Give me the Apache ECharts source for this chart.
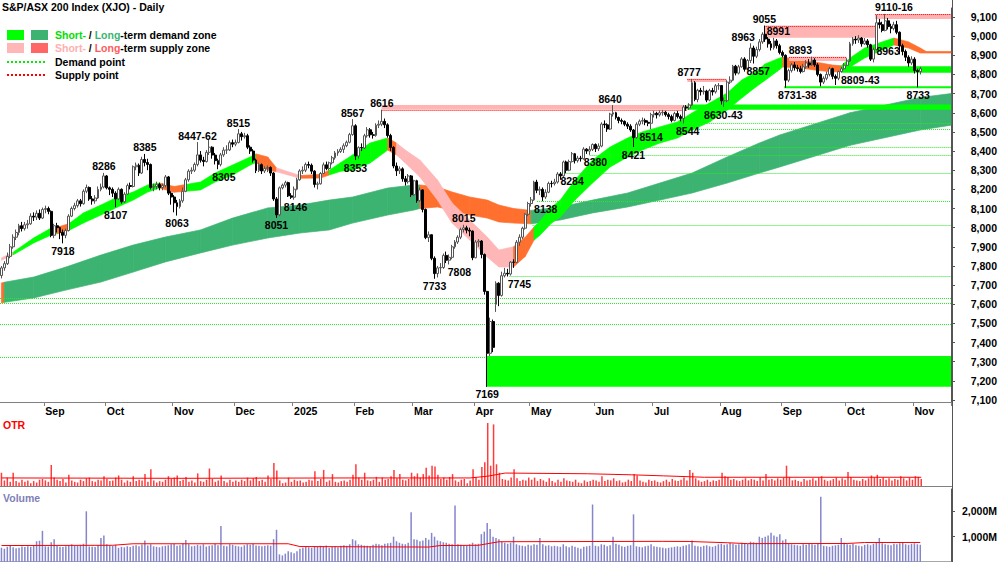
<!DOCTYPE html>
<html><head><meta charset="utf-8">
<script src="https://cdn.jsdelivr.net/npm/echarts@6/dist/echarts.min.js"></script>
<style>html,body{margin:0;padding:0;background:#fff}#c{width:1000px;height:562px}</style>
</head><body><div id="c"></div>
<script>
// ---------- DATA ----------
const holidays = ['2024-12-25','2024-12-26','2025-01-01','2025-01-27','2025-04-18','2025-04-21','2025-04-25','2025-06-09'];
const firstDay = '2024-08-12', lastDay = '2025-11-05';
const padDays = 10;
const monthNames = ['Jan','Feb','Mar','Apr','May','Jun','Jul','Aug','Sep','Oct','Nov','Dec'];
const priceTicks = [7100,7200,7300,7400,7500,7600,7700,7800,7900,8000,8100,8200,8300,8400,8500,8600,8700,8800,8900,9000,9100];
const volTicks = [1000,2000];

// daily [open, close, low, high]
const ohlc = [
[7750,7790,7735,7800],[7790,7812,7775,7825],[7812,7850,7805,7870],[7850,7900,7840,7915],[7900,7950,7890,7965],
[7950,7975,7935,7990],[7975,8010,7960,8020],[8010,7995,7980,8030],[7995,8015,7985,8030],[8015,8020,7995,8040],
[8020,8060,8015,8075],[8060,8055,8035,8080],[8055,8075,8040,8090],[8075,8050,8040,8095],[8050,8095,8045,8105],
[8095,8100,8075,8115],[8100,8085,8070,8110],[8085,7960,7950,8090],[7960,8010,7945,8020],[8010,8000,7975,8025],
[8000,7975,7940,8005],[7975,7960,7918,7990],[7960,7985,7945,7995],[7985,8060,7980,8070],[8060,8100,8055,8110],
[8100,8115,8090,8130],[8115,8140,8105,8150],[8140,8125,8110,8150],[8125,8190,8120,8200],[8190,8210,8180,8225],
[8210,8150,8140,8215],[8150,8140,8120,8165],[8140,8155,8125,8170],[8155,8200,8150,8215],[8200,8212,8190,8230],
[8212,8270,8205,8286],[8270,8208,8200,8275],[8208,8200,8170,8215],[8200,8180,8160,8210],[8180,8150,8107,8190],
[8150,8200,8145,8210],[8200,8135,8125,8205],[8135,8175,8130,8185],[8175,8220,8170,8230],[8220,8215,8200,8235],
[8215,8318,8210,8325],[8318,8326,8300,8340],[8326,8285,8270,8335],[8285,8356,8280,8370],[8356,8340,8320,8385],
[8340,8330,8300,8360],[8330,8210,8200,8335],[8210,8215,8190,8230],[8215,8225,8200,8240],[8225,8210,8195,8235],
[8210,8220,8195,8230],[8220,8265,8210,8275],[8265,8180,8170,8270],[8180,8160,8120,8190],[8160,8130,8080,8170],
[8130,8110,8063,8145],[8110,8140,8100,8150],[8140,8190,8130,8210],[8190,8250,8185,8260],[8250,8295,8240,8305],
[8295,8300,8280,8315],[8300,8330,8290,8340],[8330,8380,8320,8447],[8380,8352,8340,8400],[8352,8345,8320,8370],
[8345,8393,8340,8405],[8393,8420,8380,8462],[8420,8379,8360,8425],[8379,8350,8330,8390],[8350,8330,8305,8360],
[8330,8380,8320,8390],[8380,8405,8370,8420],[8405,8406,8385,8430],[8406,8444,8400,8455],[8444,8436,8420,8460],
[8436,8445,8425,8460],[8445,8490,8440,8515],[8490,8475,8455,8500],[8475,8480,8465,8495],[8480,8420,8410,8490],
[8420,8400,8385,8430],[8400,8353,8340,8410],[8353,8298,8285,8360],[8298,8329,8290,8340],[8329,8296,8280,8335],
[8296,8309,8285,8320],[8309,8314,8290,8325],[8314,8285,8270,8320],[8285,8150,8140,8290],[8150,8067,8051,8160],
[8067,8208,8060,8215],[8208,8222,8200,8230],[8222,8235,8210,8245],[8235,8166,8160,8240],[8166,8159,8150,8180],
[8159,8201,8146,8215],[8201,8250,8195,8260],[8250,8296,8245,8305],[8296,8300,8280,8320],[8300,8330,8290,8340],
[8330,8326,8310,8345],[8326,8295,8280,8335],[8295,8226,8210,8300],[8226,8229,8200,8240],[8229,8283,8225,8290],
[8283,8328,8280,8340],[8328,8309,8300,8345],[8309,8339,8300,8345],[8339,8365,8330,8375],[8365,8390,8355,8400],
[8390,8398,8375,8410],[8398,8409,8390,8420],[8409,8428,8390,8440],[8428,8446,8420,8455],[8446,8486,8440,8495],
[8486,8532,8480,8567],[8532,8374,8353,8540],[8374,8418,8360,8425],[8418,8416,8400,8440],[8416,8480,8410,8490],
[8480,8511,8470,8525],[8511,8485,8470,8520],[8485,8482,8465,8500],[8482,8535,8475,8545],[8535,8540,8520,8560],
[8540,8555,8530,8616],[8555,8537,8520,8570],[8537,8481,8470,8545],[8481,8419,8400,8490],[8419,8322,8310,8425],
[8322,8297,8270,8340],[8297,8307,8280,8320],[8307,8255,8240,8315],[8255,8240,8220,8270],[8240,8270,8230,8280],
[8270,8172,8160,8275],[8172,8245,8165,8250],[8245,8141,8130,8250],[8141,8197,8135,8210],[8197,8095,8080,8200],
[8095,7948,7940,8100],[7948,7963,7925,7980],[7963,7840,7830,7965],[7840,7760,7733,7850],[7760,7790,7740,7800],
[7790,7792,7760,7815],[7792,7855,7785,7865],[7855,7830,7815,7875],[7830,7845,7808,7860],[7845,7900,7835,7910],
[7900,7925,7890,7935],[7925,7950,7915,7960],[7950,7990,7940,8000],[7990,7999,7975,8015],[7999,7987,7970,8010],
[7987,7982,7955,8000],[7982,7843,7830,7985],[7843,7925,7840,7935],[7925,7930,7900,7940],[7930,7860,7840,7935],
[7860,7667,7650,7865],[7667,7344,7169,7670],[7344,7510,7330,7530],[7510,7375,7350,7520],[7600,7710,7560,7720],
[7710,7646,7590,7715],[7646,7749,7640,7770],[7749,7762,7740,7790],[7762,7758,7745,7785],[7758,7820,7750,7825],
[7820,7819,7790,7835],[7819,7924,7815,7935],[7924,7950,7905,7965],[7950,7997,7940,8005],[7997,8070,7990,8075],
[8070,8126,8060,8135],[8126,8145,8110,8160],[8145,8238,8140,8245],[8238,8195,8180,8250],[8195,8200,8170,8215],
[8200,8160,8138,8210],[8160,8185,8150,8200],[8185,8231,8180,8240],[8231,8230,8210,8245],[8230,8238,8220,8255],
[8238,8280,8230,8290],[8280,8270,8250,8290],[8270,8343,8265,8350],[8343,8300,8284,8350],[8300,8345,8295,8355],
[8345,8386,8340,8395],[8386,8350,8335,8390],[8350,8363,8340,8375],[8363,8360,8345,8375],[8360,8410,8355,8420],
[8410,8400,8385,8415],[8400,8409,8380,8425],[8409,8434,8400,8440],[8434,8412,8395,8440],[8412,8426,8400,8440],
[8426,8541,8420,8550],[8541,8537,8520,8560],[8537,8515,8500,8545],[8515,8593,8510,8600],[8593,8600,8580,8640],
[8600,8575,8565,8605],[8575,8560,8545,8580],[8560,8555,8540,8570],[8555,8540,8530,8560],[8540,8530,8515,8550],
[8530,8510,8500,8540],[8510,8470,8421,8515],[8470,8540,8465,8550],[8540,8556,8530,8565],[8556,8560,8540,8575],
[8560,8550,8535,8570],[8550,8545,8530,8560],[8545,8590,8514,8600],[8590,8597,8575,8610],[8597,8589,8570,8605],
[8589,8600,8580,8612],[8600,8603,8585,8615],[8603,8590,8580,8610],[8590,8580,8565,8600],[8580,8560,8550,8590],
[8560,8596,8555,8605],[8596,8580,8570,8610],[8580,8570,8555,8590],[8570,8630,8544,8640],[8630,8625,8610,8640],
[8625,8640,8615,8650],[8640,8757,8635,8777],[8757,8669,8660,8765],[8669,8717,8655,8725],[8717,8710,8690,8730],
[8710,8713,8695,8740],[8713,8666,8655,8720],[8666,8716,8660,8725],[8716,8709,8690,8730],[8709,8741,8700,8750],
[8741,8742,8720,8755],[8742,8662,8643,8745],[8662,8663,8630,8680],[8663,8760,8655,8770],[8760,8770,8750,8790],
[8770,8843,8765,8850],[8843,8807,8795,8850],[8807,8840,8800,8850],[8840,8881,8835,8890],[8881,8827,8815,8890],
[8827,8873,8820,8880],[8873,8938,8860,8963],[8938,8895,8857,8950],[8895,8930,8885,8945],[8930,8970,8920,8985],
[8970,9010,8960,9020],[9010,8985,8970,9055],[8985,8960,8940,8995],[8960,8940,8925,8975],[8940,8975,8930,8991],
[8975,8950,8935,8985],[8950,8915,8905,8960],[8915,8900,8890,8925],[8900,8770,8731,8905],[8770,8820,8760,8830],
[8820,8850,8810,8860],[8850,8835,8820,8865],[8835,8830,8815,8850],[8830,8815,8805,8845],[8815,8840,8810,8855],
[8840,8860,8830,8875],[8860,8850,8835,8880],[8850,8875,8845,8893],[8875,8850,8840,8885],[8850,8800,8790,8860],
[8800,8760,8738,8805],[8760,8780,8750,8790],[8780,8800,8770,8815],[8800,8830,8790,8840],[8830,8790,8775,8835],
[8790,8780,8745,8800],[8780,8815,8770,8820],[8815,8830,8809,8840],[8830,8848,8825,8860],[8848,8870,8843,8885],
[8870,8960,8865,8970],[8960,8985,8950,8995],[8985,8980,8960,9000],[8980,8990,8965,9005],[8990,8960,8945,8995],
[8960,8975,8955,8990],[8975,8955,8940,8985],[8955,8880,8870,8960],[8880,8930,8863,8940],[8930,9070,8925,9110],
[9070,9060,9040,9090],[9060,9030,9020,9075],[9030,9080,9025,9116],[9080,9050,9035,9095],[9050,9040,9015,9065],
[9040,9060,9030,9075],[9060,9020,9010,9080],[9020,8950,8905,9025],[8950,8920,8900,8960],[8920,8890,8870,8930],
[8890,8860,8840,8900],[8860,8880,8850,8895],[8880,8820,8805,8890],[8820,8815,8733,8830],[8815,8830,8800,8840]
];

const otr = [
19,8,12,6,19,7,5,9,6,8,4,7,5,9,10,
8,6,30,12,9,7,10,5,16,8,6,5,9,7,11,12,7,6,9,8,14,
10,7,8,12,15,9,5,8,6,14,7,9,8,17,6,24,8,5,7,6,9,14,10,
12,15,7,9,13,6,8,5,18,7,6,9,25,10,6,8,15,7,5,9,6,
8,6,9,7,12,8,11,13,7,9,6,15,10,33,22,8,4,5,12,6,
9,7,8,5,6,9,8,21,7,10,23,6,8,17,6,5,7,8,6,9,16,
31,12,9,19,8,7,9,13,6,12,9,10,14,23,11,17,9,8,10,19,
14,18,12,17,26,15,29,28,16,10,12,9,13,17,8,6,9,10,4,8,24,
12,9,27,34,90,29,88,31,19,10,9,8,12,24,11,7,9,8,12,
9,12,7,10,8,6,11,7,5,9,6,11,8,7,6,9,5,4,8,6,7,9,
8,6,14,7,9,8,11,7,8,5,6,9,7,17,15,8,6,5,9,7,
8,6,5,7,9,6,10,8,7,9,12,8,23,19,11,8,6,7,9,6,8,7,9,
19,14,13,9,10,8,7,9,11,8,10,9,7,12,8,17,9,10,8,11,9,
12,29,13,8,9,7,6,10,8,9,11,8,12,14,9,7,8,10,12,8,11,9,
20,13,9,8,7,10,8,11,15,12,16,10,12,9,11,8,10,9,14,11,8,12,9,
14,13,10
];
const otrAvg = [[0,11.5],[60,11],[120,11.5],[160,11.5],[166,14],[172,18.5],[200,17.5],[215,16],[226,14.5],[240,12.5],[280,12.5],[314,12.5]];

const volume = [
560,520,600,640,580,540,560,610,590,620,600,650,820,840,1230,
620,610,780,900,640,600,590,620,650,700,650,640,680,720,2000,610,600,590,660,950,1050,
700,650,640,680,560,600,580,620,590,640,660,620,690,850,650,700,620,600,580,620,640,660,700,
720,640,660,740,870,700,620,640,680,650,700,610,640,660,720,660,1420,640,620,700,680,
640,620,600,660,700,680,720,650,640,620,640,660,640,900,1270,300,260,330,420,380,
350,420,520,560,600,580,560,620,600,640,620,650,560,600,620,580,640,660,640,700,900,
850,700,680,650,640,620,680,720,700,660,720,740,760,1000,820,760,720,700,760,1960,
900,880,820,850,950,880,1150,1000,850,820,780,760,720,700,2230,700,680,650,640,700,760,
700,720,1100,1200,1540,1300,1000,950,900,800,760,720,760,1000,700,660,640,620,680,
650,700,680,950,700,640,660,620,640,620,600,700,620,580,640,600,560,520,600,620,640,2270,
640,620,700,680,620,660,1000,720,680,620,600,640,660,1880,620,600,580,620,640,700,
620,600,580,560,540,560,580,600,620,600,640,660,700,850,640,620,600,640,660,620,600,640,700,
720,680,700,750,720,680,700,760,740,720,800,780,760,1000,950,1000,1050,1150,1050,1000,1100,
850,900,720,700,680,660,640,700,680,720,700,680,720,2580,640,620,600,640,660,680,950,760,
700,680,720,660,640,620,680,700,660,720,760,950,740,700,680,660,720,700,740,760,700,680,720,
740,700,680
];
const volumeAvg = [[0,650],[38,660],[45,720],[98,720],[102,610],[146,590],[150,650],[163,660],[170,800],[226,815],[235,810],[248,760],[255,725],[289,730],[295,770],[314,770]];

// short-term band: [index, lower, upper, colour key of the segment that starts here]
const shortBand = [
[0,7830,7842,'p'],[4,7858,7872,'g'],[11,7920,7946,'g'],[17,7962,7998,'g'],[19,7968,8002,'o'],[23,7985,8020,'g'],
[28,8024,8077,'g'],[34,8066,8118,'g'],[39,8103,8155,'g'],[45,8144,8186,'g'],[50,8186,8223,'g'],[54,8207,8233,'o'],
[59,8185,8215,'o'],[63,8190,8225,'g'],[68,8197,8238,'g'],[73,8238,8285,'g'],[79,8275,8327,'g'],[85,8327,8369,'g'],
[87,8340,8385,'o'],[91,8300,8369,'o'],[94,8292,8312,'p'],[102,8258,8272,'o'],[109,8259,8278,'o'],[112,8275,8300,'g'],
[116,8295,8340,'g'],[120,8300,8380,'g'],[126,8338,8442,'g'],[132,8405,8468,'o'],[135,8380,8442,'p'],[138,8338,8405,'p'],
[143,8265,8353,'p'],[149,8144,8249,'p'],[154,8024,8129,'p'],[160,7936,8040,'p'],[166,7847,7951,'p'],[170,7795,7883,'p'],
[175,7795,7900,'o'],[179,7850,7950,'o'],[182,7935,8003,'g'],[184,7960,8035,'g'],[188,8024,8108,'g'],[191,8056,8144,'g'],
[196,8144,8249,'g'],[202,8233,8353,'g'],[208,8317,8421,'g'],[214,8369,8468,'g'],[219,8405,8500,'g'],[225,8442,8526,'g'],
[231,8468,8552,'g'],[236,8510,8599,'g'],[242,8552,8651,'g'],[248,8614,8703,'g'],[253,8677,8771,'g'],[257,8725,8805,'g'],
[261,8770,8855,'g'],[265,8815,8880,'g'],[267,8839,8891,'o'],[273,8834,8875,'o'],[278,8823,8865,'o'],[284,8813,8849,'o'],
[287,8815,8845,'g'],[290,8839,8886,'g'],[295,8886,8938,'g'],[301,8928,8970,'g'],[305,8954,8990,'o'],[310,8938,8970,'o'],
[314,8912,8938,'o'],[316,8912,8920,'o'],[324.5,8912,8920,'o']
];
// long-term band
const longBand = [
[0,7607,7711,'o'],[1,7610,7715,'G'],[11,7633,7742,'G'],[22,7674,7794,'G'],[34,7716,7857,'G'],[45,7768,7909,'G'],
[56,7821,7951,'G'],[68,7868,7988,'G'],[79,7909,8050,'G'],[91,7946,8103,'G'],[102,7972,8118,'G'],[112,7988,8144,'G'],
[120,8024,8160,'G'],[132,8066,8207,'G'],[141,8092,8223,'G'],[143,8100,8223,'o'],[149,8108,8212,'o'],[154,8092,8186,'o'],
[160,8066,8160,'o'],[166,8050,8144,'o'],[170,8030,8118,'o'],[175,8024,8100,'o'],[181,8020,8090,'G'],[191,8040,8108,'G'],
[202,8077,8144,'G'],[214,8108,8181,'G'],[225,8144,8233,'G'],[236,8181,8285,'G'],[248,8233,8369,'G'],[259,8285,8442,'G'],
[266,8317,8484,'G'],[290,8430,8600,'G'],[314,8510,8680,'G'],[324.5,8535,8700,'G']
];

// zones: [from index, to index, low, high]
const supplyZones = [[129.9,234.4,8616,8640],[234.4,247.7,8760,8777],[260.7,298.6,8991,9055],[269.2,288.7,8870,8893],[298.6,324.5,9090,9116]];
const demandZones = [[165.6,324.5,7169,7330],[234.4,324.5,8616,8643],[267.5,324.5,8731,8738],[287.3,324.5,8809,8843]];
// dotted point lines: [price, from index, to index]
const demandPoints = [[7633,-0.5,324.5],[7607,-0.5,324.5],[7497,-0.5,324.5],[7325,-0.5,324.5],[7745,173.6,324.5],[8015,181.5,324.5],
[8138,183,324.5],[8284,190.7,324.5],[8380,201,324.5],[8421,215.6,324.5],[8514,222,324.5],[8544,233,324.5]];
const supplyPoints = [[8616,129.9,234.4],[8777,234.4,247.7],[9055,260.7,298.6],[8893,269.2,288.7],[9116,298.6,324.5]];
// price annotations: [text, index, price, 't' above / 'b' below]
const notes = [
['7918',21,7918,'b'],['8286',35,8286,'t'],['8107',39,8107,'b'],['8385',49,8385,'t'],['8063',60,8063,'b'],
['8447-62',67,8447,'t'],['8305',76,8305,'b'],['8515',81,8515,'t'],['8051',94,8051,'b'],['8146',100.5,8146,'b'],
['8567',120,8567,'t'],['8353',121,8353,'b'],['8616',130,8616,'t'],['7733',148,7733,'b'],['7808',156.5,7808,'b'],
['8015',158,8015,'t'],['7169',166,7169,'b'],['7745',177,7745,'b'],['8138',186,8138,'b'],['8284',195,8284,'b'],
['8380',203,8380,'b'],['8640',208,8640,'t'],['8421',216,8421,'b'],['8514',222,8514,'b'],['8544',234.5,8544,'b'],
['8777',235,8777,'t'],['8630-43',246.7,8630,'b'],['8963',253.5,8963,'t'],['9055',260.7,9055,'t'],['8857',258.6,8857,'b'],
['8991',265.5,8991,'t'],['8893',273,8893,'t'],['8731-38',272,8731,'b'],['8809-43',293.5,8809,'b'],['9110-16',305,9116,'t'],
['8963',303,8963,'b'],['8733',313.3,8733,'b']
];

// ---------- BUILD ----------
const cats = [];
{
  let t = Date.parse(firstDay + 'T00:00:00Z');
  const end = Date.parse(lastDay + 'T00:00:00Z');
  while (t <= end) {
    const d = new Date(t), s = d.toISOString().slice(0, 10), w = d.getUTCDay();
    if (w !== 0 && w !== 6 && holidays.indexOf(s) < 0) cats.push(s);
    t += 86400000;
  }
  for (let k = 0; k < padDays; k++) cats.push('');
}
const FONT = '"Liberation Sans", Arial, Helvetica, sans-serif';
const FS = 10.5;
const isMonthStart = (i) => i > 0 && !!cats[i] && !!cats[i - 1] && cats[i].slice(0, 7) !== cats[i - 1].slice(0, 7);
const comma = (v) => String(v).replace(/\B(?=(\d{3})+(?!\d))/g, ',');
const colors = { g: '#00ff00', G: '#3cb371', p: '#ffb6b6', o: '#ff6f2e' };

function px(api, i, v) {
  const bw = api.size([1, 0])[0];
  const p0 = api.coord([0, v]);
  return [p0[0] + i * bw, p0[1]];
}
function bandSeries(band, z) {
  return {
    type: 'custom', xAxisIndex: 0, yAxisIndex: 0, z: z, silent: true,
    data: band.slice(0, -1).map(r => [Math.floor(r[0]), r[1]]),
    renderItem: function (params, api) {
      const a = band[params.dataIndex], b = band[params.dataIndex + 1];
      const pts = [px(api, a[0], a[2]), px(api, b[0], b[2]), px(api, b[0], b[1]), px(api, a[0], a[1])];
      const col = colors[a[3]];
      return { type: 'polygon', shape: { points: pts }, style: { fill: col, stroke: col, lineWidth: 0.7 } };
    }
  };
}
function zoneSeries(zones, col, z) {
  return {
    type: 'custom', xAxisIndex: 0, yAxisIndex: 0, z: z, silent: true,
    data: zones.map(r => [Math.floor(r[0]), r[2]]),
    renderItem: function (params, api) {
      const r = zones[params.dataIndex];
      const a = px(api, r[0], r[3]), b = px(api, r[1], r[2]);
      const h = Math.max(2, b[1] - a[1]);
      return { type: 'rect', shape: { x: a[0], y: a[1], width: b[0] - a[0], height: h }, style: { fill: col } };
    }
  };
}
function pointSeries(lines, col, z) {
  return {
    type: 'custom', xAxisIndex: 0, yAxisIndex: 0, z: z, silent: true,
    data: lines.map(r => [Math.max(0, Math.floor(r[1])), r[0]]),
    renderItem: function (params, api) {
      const r = lines[params.dataIndex];
      const a = px(api, r[1], r[0]), b = px(api, r[2], r[0]);
      const y = Math.round(a[1]) + 0.5;
      return { type: 'line', shape: { x1: a[0], y1: y, x2: b[0], y2: y }, style: { stroke: col, lineWidth: 1, lineDash: [1, 1] } };
    }
  };
}
const noteSeries = {
  type: 'custom', xAxisIndex: 0, yAxisIndex: 0, z: 20, silent: true,
  data: notes.map(r => [Math.floor(r[1]), r[2]]),
  renderItem: function (params, api) {
    const r = notes[params.dataIndex];
    const p = px(api, r[1], r[2]);
    const top = r[3] === 't';
    return {
      type: 'text', x: p[0], y: top ? p[1] - 1 : p[1] + 2,
      style: { text: r[0], align: 'center', verticalAlign: top ? 'bottom' : 'top',
               font: 'bold ' + FS + 'px ' + FONT, fill: '#000' }
    };
  }
};

const chart = echarts.init(document.getElementById('c'), null, { renderer: 'svg', width: 1000, height: 562 });
const legendFont = 'bold ' + FS + 'px ' + FONT;
chart.setOption({
  animation: false,
  backgroundColor: '#ffffff',
  title: { text: 'S&P/ASX 200 Index (XJO) - Daily', left: 2, top: 1, padding: 0,
           textStyle: { fontSize: FS, fontWeight: 'bold', fontFamily: FONT, color: '#000' } },
  grid: [
    { left: 0, top: 8, width: 952, height: 394 },
    { left: 0, top: 416, width: 952, height: 70 },
    { left: 0, top: 489, width: 952, height: 73.5 }
  ],
  xAxis: [
    { type: 'category', gridIndex: 0, data: cats, boundaryGap: true,
      axisLine: { lineStyle: { color: '#808080', width: 1 } },
      axisTick: { show: true, interval: (i) => isMonthStart(i), length: 4, lineStyle: { color: '#808080' } },
      axisLabel: { interval: (i) => isMonthStart(i), align: 'left', margin: 3,
        formatter: (v) => { if (!v) return ''; const m = +v.slice(5, 7); return m === 1 ? v.slice(0, 4) : monthNames[m - 1]; },
        fontSize: FS, fontWeight: 'bold', fontFamily: FONT, color: '#000' },
      splitLine: { show: false } },
    { type: 'category', gridIndex: 1, data: cats, boundaryGap: true, position: 'top',
      axisLine: { lineStyle: { color: '#808080' } }, axisTick: { show: false }, axisLabel: { show: false } },
    { type: 'category', gridIndex: 2, data: cats, boundaryGap: true, position: 'top',
      axisLine: { lineStyle: { color: '#8a8a8a', width: 1.5 } }, axisTick: { show: false }, axisLabel: { show: false } }
  ],
  yAxis: [
    { type: 'value', gridIndex: 0, position: 'right', min: 7089.6, max: 9147, splitLine: { show: false },
      axisLine: { show: true, lineStyle: { color: '#555' } },
      axisTick: { show: true, length: 4, customValues: priceTicks, lineStyle: { color: '#555' } },
      axisLabel: { customValues: priceTicks, formatter: (v) => comma(v), align: 'right', margin: 46,
        fontSize: FS, fontWeight: 'bold', fontFamily: FONT, color: '#000' } },
    { type: 'value', gridIndex: 1, position: 'right', min: 0, max: 100, splitLine: { show: false },
      axisLine: { show: true, lineStyle: { color: '#555' } }, axisTick: { show: false }, axisLabel: { show: false } },
    { type: 'value', gridIndex: 2, position: 'right', min: 0, max: 2882, splitLine: { show: false },
      axisLine: { show: true, lineStyle: { color: '#555' } },
      axisTick: { show: true, length: 4, customValues: volTicks, lineStyle: { color: '#555' } },
      axisLabel: { customValues: volTicks, formatter: (v) => comma(v) + 'M', align: 'right', margin: 46,
        fontSize: FS, fontWeight: 'bold', fontFamily: FONT, color: '#000' } }
  ],
  graphic: [
    { type: 'line', shape: { x1: 952.5, y1: 0, x2: 952.5, y2: 562 }, style: { stroke: '#555', lineWidth: 1 }, z: 50 },
    { type: 'rect', shape: { x: 7, y: 30, width: 17, height: 10 }, style: { fill: '#00ff00' } },
    { type: 'rect', shape: { x: 31, y: 30, width: 17, height: 10 }, style: { fill: '#3cb371' } },
    { type: 'rect', shape: { x: 7, y: 43, width: 17, height: 10 }, style: { fill: '#ffb6b6' } },
    { type: 'rect', shape: { x: 31, y: 43, width: 17, height: 10 }, style: { fill: '#ff6666' } },
    { type: 'line', shape: { x1: 7, y1: 62, x2: 45, y2: 62 }, style: { stroke: '#00ee00', lineWidth: 2, lineDash: [2, 2] } },
    { type: 'line', shape: { x1: 7, y1: 75, x2: 45, y2: 75 }, style: { stroke: '#ff0000', lineWidth: 2, lineDash: [2, 2] } },
    { type: 'text', x: 55, y: 35, style: { text: '{a|Short-} / {b|Long}-term demand zone', verticalAlign: 'middle', font: legendFont, fill: '#000',
        rich: { a: { fill: '#00e000', font: legendFont }, b: { fill: '#3cb371', font: legendFont } } } },
    { type: 'text', x: 55, y: 48, style: { text: '{a|Short-} / {b|Long}-term supply zone', verticalAlign: 'middle', font: legendFont, fill: '#000',
        rich: { a: { fill: '#ffb0b0', font: legendFont }, b: { fill: '#ff5c5c', font: legendFont } } } },
    { type: 'text', x: 55, y: 62, style: { text: 'Demand point', verticalAlign: 'middle', font: legendFont, fill: '#000' } },
    { type: 'text', x: 55, y: 75, style: { text: 'Supply point', verticalAlign: 'middle', font: legendFont, fill: '#000' } },
    { type: 'text', x: 3, y: 425, style: { text: 'OTR', verticalAlign: 'middle', font: legendFont, fill: '#ff0000' } },
    { type: 'text', x: 3, y: 498, style: { text: 'Volume', verticalAlign: 'middle', font: legendFont, fill: '#8080b8' } }
  ],
  series: [
    bandSeries(longBand, 1),
    bandSeries(shortBand, 2),
    zoneSeries(supplyZones, '#ffb3b3', 3),
    zoneSeries(demandZones, '#00ff00', 3),
    pointSeries(demandPoints, '#22ee22', 4),
    pointSeries(supplyPoints, '#ff0000', 4),
    { type: 'candlestick', xAxisIndex: 0, yAxisIndex: 0, z: 10, data: ohlc, barWidth: 2.4,
      itemStyle: { color: '#ffffff', color0: '#000000', borderColor: '#555555', borderColor0: '#000000', borderWidth: 1 } },
    noteSeries,
    { type: 'bar', xAxisIndex: 1, yAxisIndex: 1, data: otr, barWidth: 1.5, itemStyle: { color: '#ff3b3b' }, z: 2 },
    { type: 'line', xAxisIndex: 1, yAxisIndex: 1, data: otrAvg, showSymbol: false, lineStyle: { color: '#ff0000', width: 1 }, z: 3 },
    { type: 'bar', xAxisIndex: 2, yAxisIndex: 2, data: volume, barWidth: 1.5, itemStyle: { color: '#8585cc' }, z: 2 },
    { type: 'line', xAxisIndex: 2, yAxisIndex: 2, data: volumeAvg, showSymbol: false, lineStyle: { color: '#ff0000', width: 1 }, z: 3 }
  ]
});
</script></body></html>
